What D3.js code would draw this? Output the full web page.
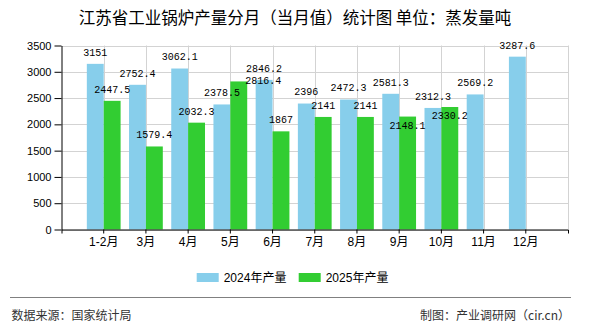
<!DOCTYPE html>
<html>
<head>
<meta charset="utf-8">
<script src="https://cdn.jsdelivr.net/npm/d3@7"></script>
<style>
  html, body { margin: 0; padding: 0; background: #fff; }
  svg { display: block; }
  text { font-family: "Liberation Sans", "Noto Sans CJK SC", sans-serif; }
</style>
</head>
<body>
<svg id="chart" width="590" height="330"></svg>
<script>
const categories = ["1-2月", "3月", "4月", "5月", "6月", "7月", "8月", "9月", "10月", "11月", "12月"];
const values2024 = [3151, 2752.4, 3062.1, 2378.5, 2846.2, 2396, 2472.3, 2581.3, 2312.3, 2569.2, 3287.6];
const values2025 = [2447.5, 1579.4, 2032.3, 2816.4, 1867, 2141, 2141, 2148.1, 2330.2, null, null];
const seriesNames = ["2024年产量", "2025年产量"];
const yTicks = [0, 500, 1000, 1500, 2000, 2500, 3000, 3500];
const titleText = "江苏省工业锅炉产量分月（当月值）统计图 单位：蒸发量吨";
const sourceText = "数据来源：国家统计局";
const creditText = "制图：产业调研网（cir.cn）";

const colors = ["#87CEEB", "#32CD32"];
const svg = d3.select("#chart");
const plotL = 61.5, plotR = 568, plotT = 45.5, plotB = 229.5;

const x = d3.scaleBand().domain(categories).range([plotL, plotR]).paddingInner(0).paddingOuter(0.5);
const y = d3.scaleLinear().domain([0, 3500]).range([plotB, plotT]);
const barW = x.step() * 0.4;
const cx = c => x(c) + x.bandwidth() / 2;

// title
svg.append("text").attr("x", 295).attr("y", 18.5).attr("dy", "0.35em")
  .attr("text-anchor", "middle").attr("font-size", 16.5).attr("fill", "#000")
  .style("font-family", "'Noto Sans CJK SC', sans-serif")
  .text(titleText);

// grid
const grid = svg.append("g");
grid.selectAll("line.h").data(yTicks).join("line")
  .attr("x1", plotL).attr("x2", plotR)
  .attr("y1", d => Math.round(y(d)) + 0.5).attr("y2", d => Math.round(y(d)) + 0.5)
  .attr("stroke", "#d3d3d3").attr("stroke-width", 1);
grid.selectAll("line.v").data(categories).join("line")
  .attr("x1", d => Math.round(cx(d)) + 0.5).attr("x2", d => Math.round(cx(d)) + 0.5)
  .attr("y1", y(3500)).attr("y2", plotB)
  .attr("stroke", "#d3d3d3").attr("stroke-width", 1);
grid.append("line").attr("x1", plotR + 0.5).attr("x2", plotR + 0.5)
  .attr("y1", y(3500)).attr("y2", plotB).attr("stroke", "#d3d3d3");

// bars
const series = [values2024, values2025];
series.forEach((vals, si) => {
  svg.append("g").selectAll("rect").data(categories.map((c, i) => ({c, v: vals[i]})).filter(d => d.v != null))
    .join("rect")
    .attr("x", d => cx(d.c) - barW + si * barW)
    .attr("width", barW)
    .attr("y", d => y(d.v))
    .attr("height", d => plotB - y(d.v))
    .attr("fill", colors[si]);
});

// axes
const yAxis = d3.axisLeft(y).tickValues(yTicks).tickFormat(d3.format("d"))
  .tickSize(7).tickPadding(3).tickSizeOuter(0);
const gy = svg.append("g").attr("transform", `translate(${plotL},0)`).call(yAxis);
gy.selectAll("text").attr("font-size", 11).attr("fill", "#000")
  .style("font-family", "'Liberation Sans', sans-serif");
gy.select(".domain").attr("stroke", "#000");
gy.selectAll(".tick line").attr("stroke", "#000");

const xAxis = d3.axisBottom(x).tickSize(4).tickSizeOuter(4).tickPadding(4);
const gx = svg.append("g").attr("transform", `translate(0,${plotB})`).call(xAxis);
gx.selectAll("text").attr("font-size", 12).attr("fill", "#000").attr("y", 12).attr("dy", "0.35em");
gx.select(".domain").attr("stroke", "#000");
gx.selectAll(".tick line").attr("stroke", "#000");

// value labels (a few are moved to avoid overlaps, as in the source picture)
const nudges = { "1-3": [24.5, 10.5], "1-7": [0, 20.5], "1-8": [0, 20.5] };
series.forEach((vals, si) => {
  categories.forEach((c, i) => {
    const v = vals[i];
    if (v == null) return;
    const n = nudges[si + "-" + i] || [0, 0];
    const s = String(v);
    svg.append("text")
      .attr("x", cx(c) - barW / 2 + si * barW + n[0])
      .attr("y", y(v) - 12 + n[1])
      .attr("dy", "0.35em")
      .attr("text-anchor", "middle")
      .attr("font-size", 11)
      .attr("textLength", s.length * 6)
      .attr("lengthAdjust", "spacingAndGlyphs")
      .attr("fill", "#000")
      .style("font-family", "'Liberation Mono', monospace")
      .text(s);
  });
});

// legend
const legendX = [196.7, 298.7];
seriesNames.forEach((name, i) => {
  svg.append("rect").attr("x", legendX[i]).attr("y", 273).attr("width", 22).attr("height", 9)
    .attr("fill", colors[i]);
  svg.append("text").attr("x", legendX[i] + 27).attr("y", 277.5).attr("dy", "0.35em")
    .attr("font-size", 12).attr("fill", "#000").text(name);
});

// footer
svg.append("line").attr("x1", 10).attr("x2", 571).attr("y1", 297.5).attr("y2", 297.5)
  .attr("stroke", "#808080").attr("stroke-width", 1);
svg.append("text").attr("x", 11.5).attr("y", 315.5).attr("dy", "0.35em")
  .attr("font-size", 12).attr("fill", "#333")
  .style("font-family", "'Noto Sans CJK SC', sans-serif").text(sourceText);
svg.append("text").attr("x", 570).attr("y", 315.5).attr("dy", "0.35em")
  .attr("text-anchor", "end").attr("font-size", 12).attr("fill", "#333")
  .style("font-family", "'Noto Sans CJK SC', sans-serif").text(creditText);
</script>
</body>
</html>
